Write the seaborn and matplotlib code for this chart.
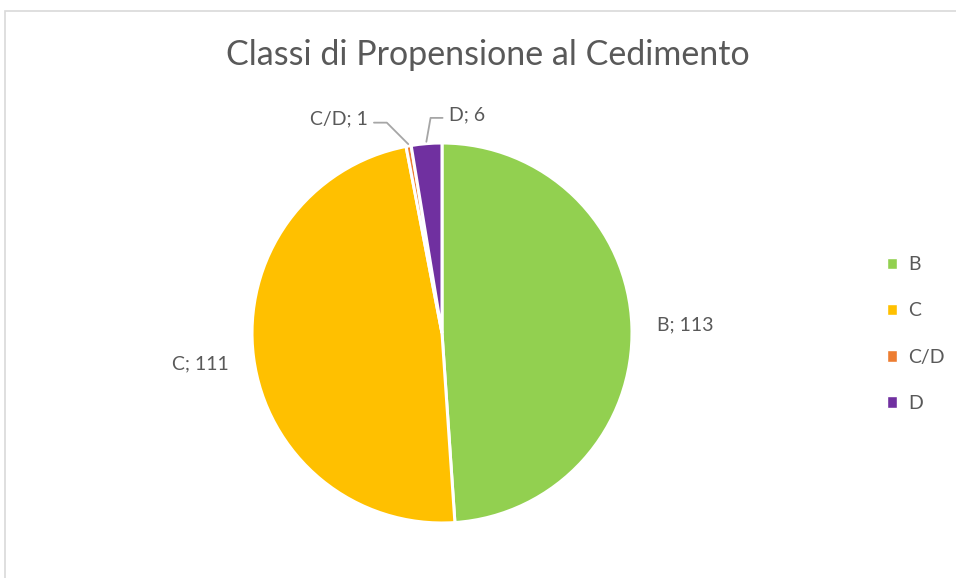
import numpy as np
import matplotlib
matplotlib.use("Agg")
import matplotlib.pyplot as plt
import seaborn as sns
from matplotlib.patches import Rectangle

# data
categories = ["B", "C", "C/D", "D"]
counts = [113, 111, 1, 6]
colors = ["#92D050", "#FFC000", "#ED7D31", "#7030A0"]
title = "Classi di Propensione al Cedimento"

sns.set_theme(style="white")
plt.rcParams["font.family"] = ["Lato", "DejaVu Sans"]
text_color = "#595959"

W, H = 956, 578
fig = plt.figure(figsize=(W / 100, H / 100), dpi=100)

# chart border (light gray frame, like the Excel chart area)
fig.patches.append(Rectangle((5 / W, -0.1), 2.0, (H - 11) / H + 0.1,
                             transform=fig.transFigure, fill=False,
                             edgecolor="#D9D9D9", linewidth=1.2))

fig.text(488 / W, 1 - 55 / H, title, ha="center", va="center",
         fontsize=24.5, color=text_color)

# pie centred at (442, 333) px with radius 190 px
cx, cy, r = 442, 333, 190
ax = fig.add_axes([(cx - r) / W, (H - cy - r) / H, 2 * r / W, 2 * r / H])
wedges, _ = ax.pie(counts, colors=colors, startangle=90, counterclock=False,
                   wedgeprops=dict(edgecolor="white", linewidth=2.2))
ax.set_xlim(-1, 1)
ax.set_ylim(-1, 1)
ax.set_aspect("auto")
ax.axis("off")

labels = [f"{c}; {v}" for c, v in zip(categories, counts)]

# big slices: labels outside along mid angle
for w, lab in zip(wedges[:2], labels[:2]):
    mid = np.deg2rad((w.theta1 + w.theta2) / 2)
    ax.text(1.28 * np.cos(mid), 1.28 * np.sin(mid), lab, ha="center",
            va="center", fontsize=14, color=text_color)

# small slices: labels pulled out with leader lines
# index: (text x, text y, ha, relpos, angle of leader at the slice)
small = {2: (-0.39, 1.125, "right", (1, 0.3), 135),
         3: (0.035, 1.15, "left", (0, 0.3), 80)}
for i, (tx, ty, ha, rel, angB) in small.items():
    w = wedges[i]
    mid = np.deg2rad((w.theta1 + w.theta2) / 2)
    ex, ey = 1.01 * np.cos(mid), 1.01 * np.sin(mid)
    ax.annotate(labels[i], xy=(ex, ey), xytext=(tx, ty), ha=ha, va="center",
                fontsize=14, color=text_color, annotation_clip=False,
                arrowprops=dict(arrowstyle="-", color="#A6A6A6", lw=1.3,
                                shrinkA=2, shrinkB=0, relpos=rel,
                                connectionstyle=f"angle,angleA=0,angleB={angB},rad=0"))

handles = [Rectangle((0, 0), 1, 1, facecolor=c) for c in colors]
fig.legend(handles, categories, loc="center left",
           bbox_to_anchor=(869 / W, 1 - 334 / H), frameon=False,
           fontsize=14, labelcolor=text_color, handlelength=0.55,
           handleheight=0.55, handletextpad=0.55, labelspacing=1.5)

fig.savefig("out.png", dpi=100)
